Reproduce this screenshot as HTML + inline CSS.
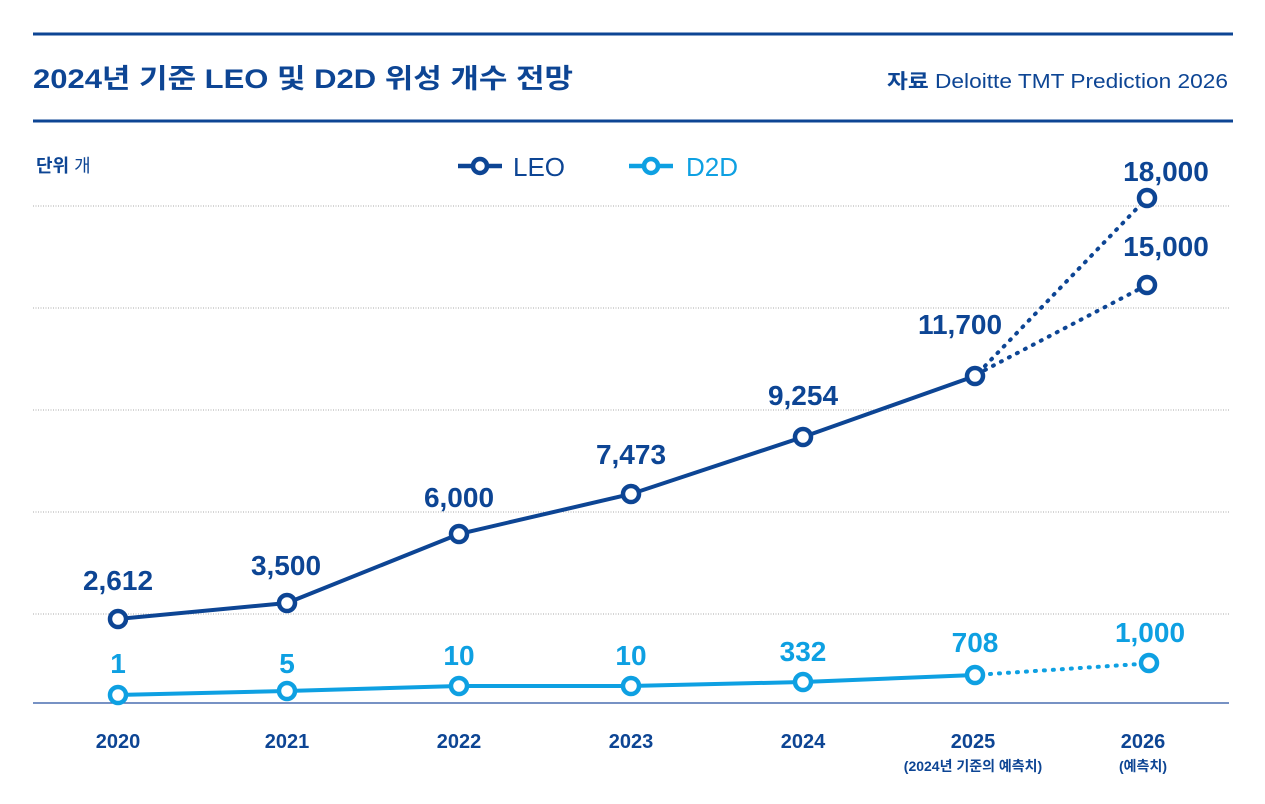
<!DOCTYPE html>
<html><head><meta charset="utf-8"><style>
html,body{margin:0;padding:0;background:#fff;}
svg{display:block;font-family:"Liberation Sans","Noto Sans CJK KR",sans-serif;}
</style></head><body>
<svg width="1265" height="804" viewBox="0 0 1265 804">
<rect width="1265" height="804" fill="#fff"/>
<line x1="33" y1="34" x2="1233" y2="34" stroke="#0d4594" stroke-width="3"/>
<line x1="33" y1="121" x2="1233" y2="121" stroke="#0d4594" stroke-width="3"/>
<text x="33" y="88" font-size="27" font-weight="bold" fill="#0d4594" textLength="540" lengthAdjust="spacingAndGlyphs">2024년 기준 LEO 및 D2D 위성 개수 전망</text>
<text x="887" y="88" font-size="20" fill="#0d4594" textLength="341" lengthAdjust="spacingAndGlyphs"><tspan font-weight="bold">자료</tspan> Deloitte TMT Prediction 2026</text>
<text x="36" y="172" font-size="18" fill="#0d4594"><tspan font-weight="bold">단위</tspan> 개</text>
<g stroke="#0d4594" stroke-width="4.5" fill="#fff"><line x1="458" y1="166" x2="502" y2="166"/><circle cx="480" cy="166" r="7"/></g>
<text x="513" y="176" font-size="26" fill="#0d4594">LEO</text>
<g stroke="#0ea0e2" stroke-width="4.5" fill="#fff"><line x1="629" y1="166" x2="673" y2="166"/><circle cx="651" cy="166" r="7"/></g>
<text x="686" y="176" font-size="26" fill="#0ea0e2">D2D</text>
<g stroke="#aaa" stroke-width="1" stroke-dasharray="1,1.5">
<line x1="33" y1="206" x2="1230" y2="206"/><line x1="33" y1="308" x2="1230" y2="308"/><line x1="33" y1="410" x2="1230" y2="410"/><line x1="33" y1="512" x2="1230" y2="512"/><line x1="33" y1="614" x2="1230" y2="614"/>
</g>
<line x1="33" y1="703" x2="1229" y2="703" stroke="#4a6fb0" stroke-width="1.5"/>
<polyline points="118,619 287,603 459,534 631,494 803,437 975,376" fill="none" stroke="#0d4594" stroke-width="4"/>
<g stroke="#0d4594" stroke-width="4" stroke-dasharray="1,8" stroke-linecap="round"><line x1="985" y1="366" x2="1147" y2="198"/><line x1="985" y1="370" x2="1147" y2="285"/></g>
<polyline points="118,695 287,691 459,686 631,686 803,682 975,675" fill="none" stroke="#0ea0e2" stroke-width="4"/>
<line x1="990" y1="674" x2="1140" y2="664" stroke="#0ea0e2" stroke-width="4" stroke-dasharray="1,8" stroke-linecap="round"/>
<g stroke="#0d4594" stroke-width="4.5" fill="#fff">
<circle cx="118" cy="619" r="8"/><circle cx="287" cy="603" r="8"/><circle cx="459" cy="534" r="8"/><circle cx="631" cy="494" r="8"/><circle cx="803" cy="437" r="8"/><circle cx="975" cy="376" r="8"/><circle cx="1147" cy="198" r="8"/><circle cx="1147" cy="285" r="8"/>
</g>
<g stroke="#0ea0e2" stroke-width="4.5" fill="#fff">
<circle cx="118" cy="695" r="8"/><circle cx="287" cy="691" r="8"/><circle cx="459" cy="686" r="8"/><circle cx="631" cy="686" r="8"/><circle cx="803" cy="682" r="8"/><circle cx="975" cy="675" r="8"/><circle cx="1149" cy="663" r="8"/>
</g>
<g font-size="28" font-weight="bold" fill="#0d4594" text-anchor="middle">
<text x="118" y="590">2,612</text><text x="286" y="575">3,500</text><text x="459" y="507">6,000</text><text x="631" y="464">7,473</text><text x="803" y="405">9,254</text><text x="960" y="334">11,700</text><text x="1166" y="181">18,000</text><text x="1166" y="256">15,000</text>
</g>
<g font-size="28" font-weight="bold" fill="#0ea0e2" text-anchor="middle">
<text x="118" y="673">1</text><text x="287" y="673">5</text><text x="459" y="665">10</text><text x="631" y="665">10</text><text x="803" y="661">332</text><text x="975" y="652">708</text><text x="1150" y="642">1,000</text>
</g>
<g font-size="20" font-weight="bold" fill="#0d4594" text-anchor="middle">
<text x="118" y="748">2020</text><text x="287" y="748">2021</text><text x="459" y="748">2022</text><text x="631" y="748">2023</text><text x="803" y="748">2024</text><text x="973" y="748">2025</text><text x="1143" y="748">2026</text>
</g>
<g font-size="14" font-weight="bold" fill="#0d4594" text-anchor="middle">
<text x="973" y="771">(2024년 기준의 예측치)</text><text x="1143" y="771">(예측치)</text>
</g>
</svg>
</body></html>
